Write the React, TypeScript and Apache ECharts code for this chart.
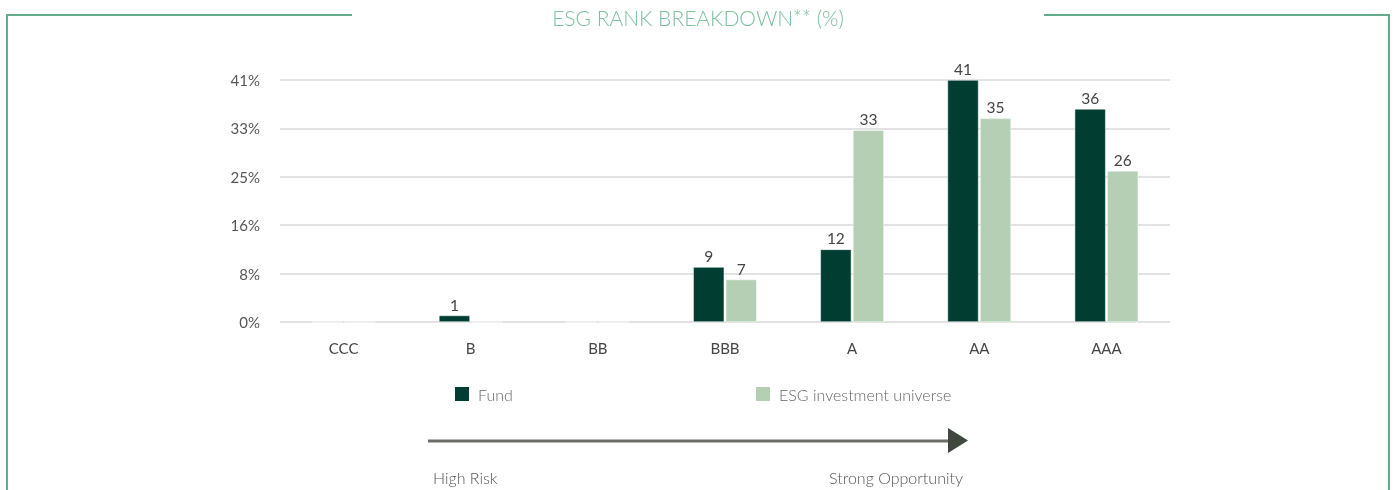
import React, { useEffect, useRef } from "react";
import * as echarts from "echarts";

const categories = ["CCC", "B", "BB", "BBB", "A", "AA", "AAA"];
const fundValues = [0, 1.1, 0, 9.3, 12.3, 41, 36.1];
const universeValues = [0, 0, 0, 7.2, 32.5, 34.5, 25.6];
const seriesNames = ["Fund", "ESG investment universe"];
const titleText = "ESG RANK BREAKDOWN** (%)";
const scaleLabels = ["High Risk", "Strong Opportunity"];

const FONT = "Lato, 'Open Sans', sans-serif";
const FRAME = "#62ad8d";

export default function App() {
  const ref = useRef<HTMLDivElement>(null);
  useEffect(() => {
    if (!ref.current) return;
    const chart = echarts.init(ref.current, undefined, { renderer: "svg" });
    const labelStyle = {
      show: true,
      position: "top",
      distance: 3,
      color: "#444",
      fontSize: 15.5,
      fontFamily: FONT,
      formatter: (p: any) => (p.value > 0 ? String(Math.round(p.value)) : ""),
    };
    const legendText = { color: "#666", fontSize: 16, fontFamily: FONT, fontWeight: 300, padding: [0, 0, 0, 3] };
    chart.setOption({
      animation: false,
      textStyle: { fontFamily: FONT },
      grid: { left: 280, right: 225, top: 80, bottom: 168, containLabel: false },
      legend: [
        {
          data: [seriesNames[0]],
          left: 453,
          top: 385,
          itemWidth: 16,
          itemHeight: 16,
          icon: "rect",
          textStyle: legendText,
          padding: 0,
        },
        {
          data: [seriesNames[1]],
          left: 754,
          top: 385,
          itemWidth: 16,
          itemHeight: 16,
          icon: "rect",
          textStyle: legendText,
          padding: 0,
        },
      ],
      xAxis: {
        type: "category",
        data: categories,
        axisLine: { show: false },
        axisTick: { show: false },
        axisLabel: { color: "#444", fontSize: 15, fontFamily: FONT, margin: 18 },
      },
      yAxis: {
        type: "value",
        min: 0,
        max: 41,
        interval: 8.2,
        axisLine: { show: false },
        axisTick: { show: false },
        splitLine: { lineStyle: { color: "#d9d9d9", width: 1.5 } },
        axisLabel: {
          color: "#555",
          fontSize: 15,
          fontFamily: FONT,
          margin: 20,
          formatter: (v: number) => Math.round(v) + "%",
        },
      },
      series: [
        {
          name: seriesNames[0],
          type: "bar",
          data: fundValues,
          barWidth: 31,
          barGap: "5%",
          itemStyle: { color: "#013d30", borderColor: "#fff", borderWidth: 0.5 },
          label: labelStyle,
        },
        {
          name: seriesNames[1],
          type: "bar",
          data: universeValues,
          barWidth: 31,
          itemStyle: { color: "#b4cfb4", borderColor: "#fff", borderWidth: 0.5 },
          label: labelStyle,
        },
      ],
      graphic: [
        { type: "line", shape: { x1: 7, y1: 15, x2: 352, y2: 15 }, style: { stroke: FRAME, lineWidth: 2 } },
        { type: "line", shape: { x1: 7, y1: 14, x2: 7, y2: 490 }, style: { stroke: FRAME, lineWidth: 2 } },
        { type: "line", shape: { x1: 1044, y1: 15, x2: 1389, y2: 15 }, style: { stroke: FRAME, lineWidth: 2 } },
        { type: "line", shape: { x1: 1389, y1: 14, x2: 1389, y2: 490 }, style: { stroke: FRAME, lineWidth: 2 } },
        {
          type: "text",
          x: 698,
          y: 17,
          style: {
            text: titleText,
            fill: "#7cbf9f",
            fontSize: 21,
            fontFamily: "Lato, sans-serif",
            fontWeight: 300,
            align: "center",
            verticalAlign: "middle",
          },
        },
        { type: "line", shape: { x1: 428, y1: 441, x2: 949, y2: 441 }, style: { stroke: "#6d6d68", lineWidth: 3 } },
        {
          type: "polygon",
          shape: { points: [[948, 428], [968, 440.5], [948, 453]] },
          style: { fill: "#3f473f" },
        },
        {
          type: "text",
          x: 433,
          y: 477,
          style: { text: scaleLabels[0], fill: "#555", fontSize: 16, fontFamily: FONT, fontWeight: 300, align: "left", verticalAlign: "middle" },
        },
        {
          type: "text",
          x: 963,
          y: 477,
          style: { text: scaleLabels[1], fill: "#555", fontSize: 16, fontFamily: FONT, fontWeight: 300, align: "right", verticalAlign: "middle" },
        },
      ],
    });
    return () => chart.dispose();
  }, []);
  return <div ref={ref} style={{ position: "fixed", left: 0, top: 0, width: 1395, height: 490 }} />;
}
